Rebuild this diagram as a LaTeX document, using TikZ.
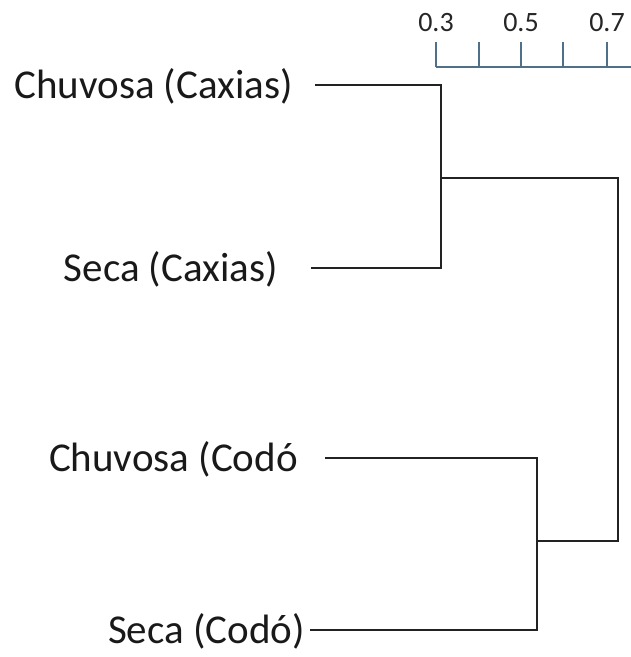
\documentclass[tikz,border=0pt]{standalone}
\usepackage{fontspec}
\setmainfont{Carlito}
\definecolor{scalecol}{HTML}{50708A}
\definecolor{dendcol}{HTML}{222222}
\begin{document}
\begin{tikzpicture}[x=1pt,y=-1pt,
  leaf/.style={anchor=base east,inner sep=0pt,font=\fontsize{41}{48}\selectfont,text=black!90},
  tick/.style={anchor=base,inner sep=0pt,font=\fontsize{28}{32}\selectfont,text=black!85},
  branch/.style={draw=dendcol,line width=1.4pt},
  scaleline/.style={draw=scalecol,line width=1.1pt}]
\useasboundingbox (0,0) rectangle (631,657);
% scale bar
\coordinate (s0) at (436,67);
\coordinate (s1) at (631,67);
\draw[scaleline] (s0) -- (s1);
\foreach \x/\n in {436/t3,479/t4,521/t5,563/t6,607/t7}{
  \coordinate (\n) at (\x,67);
  \draw[scaleline] (\n) -- ++(0,-25);
}
\node[tick] (l3) at (436,31) {0.3};
\node[tick] (l5) at (521,31) {0.5};
\node[tick] (l7) at (607,31) {0.7};
% leaves
\node[leaf] (a) at (293,98) {Chuvosa (Caxias)};
\node[leaf] (b) at (278,281) {Seca (Caxias)};
\node[leaf] (c) at (298,471) {Chuvosa (Codó};
\node[leaf] (d) at (305,643) {Seca (Codó)};
% junctions
\coordinate (ae) at (315,85);
\coordinate (be) at (311,268);
\coordinate (ce) at (325,458);
\coordinate (de) at (310,630);
\coordinate (ab1) at (441,85);
\coordinate (ab2) at (441,268);
\coordinate (abm) at (441,178);
\coordinate (cd1) at (537,458);
\coordinate (cd2) at (537,630);
\coordinate (cdm) at (537,541);
\coordinate (r1) at (618,178);
\coordinate (r2) at (618,541);
\draw[branch] (ae) -- (ab1) -- (ab2) -- (be);
\draw[branch] (ce) -- (cd1) -- (cd2) -- (de);
\draw[branch] (abm) -- (r1) -- (r2) -- (cdm);
\end{tikzpicture}
\end{document}
